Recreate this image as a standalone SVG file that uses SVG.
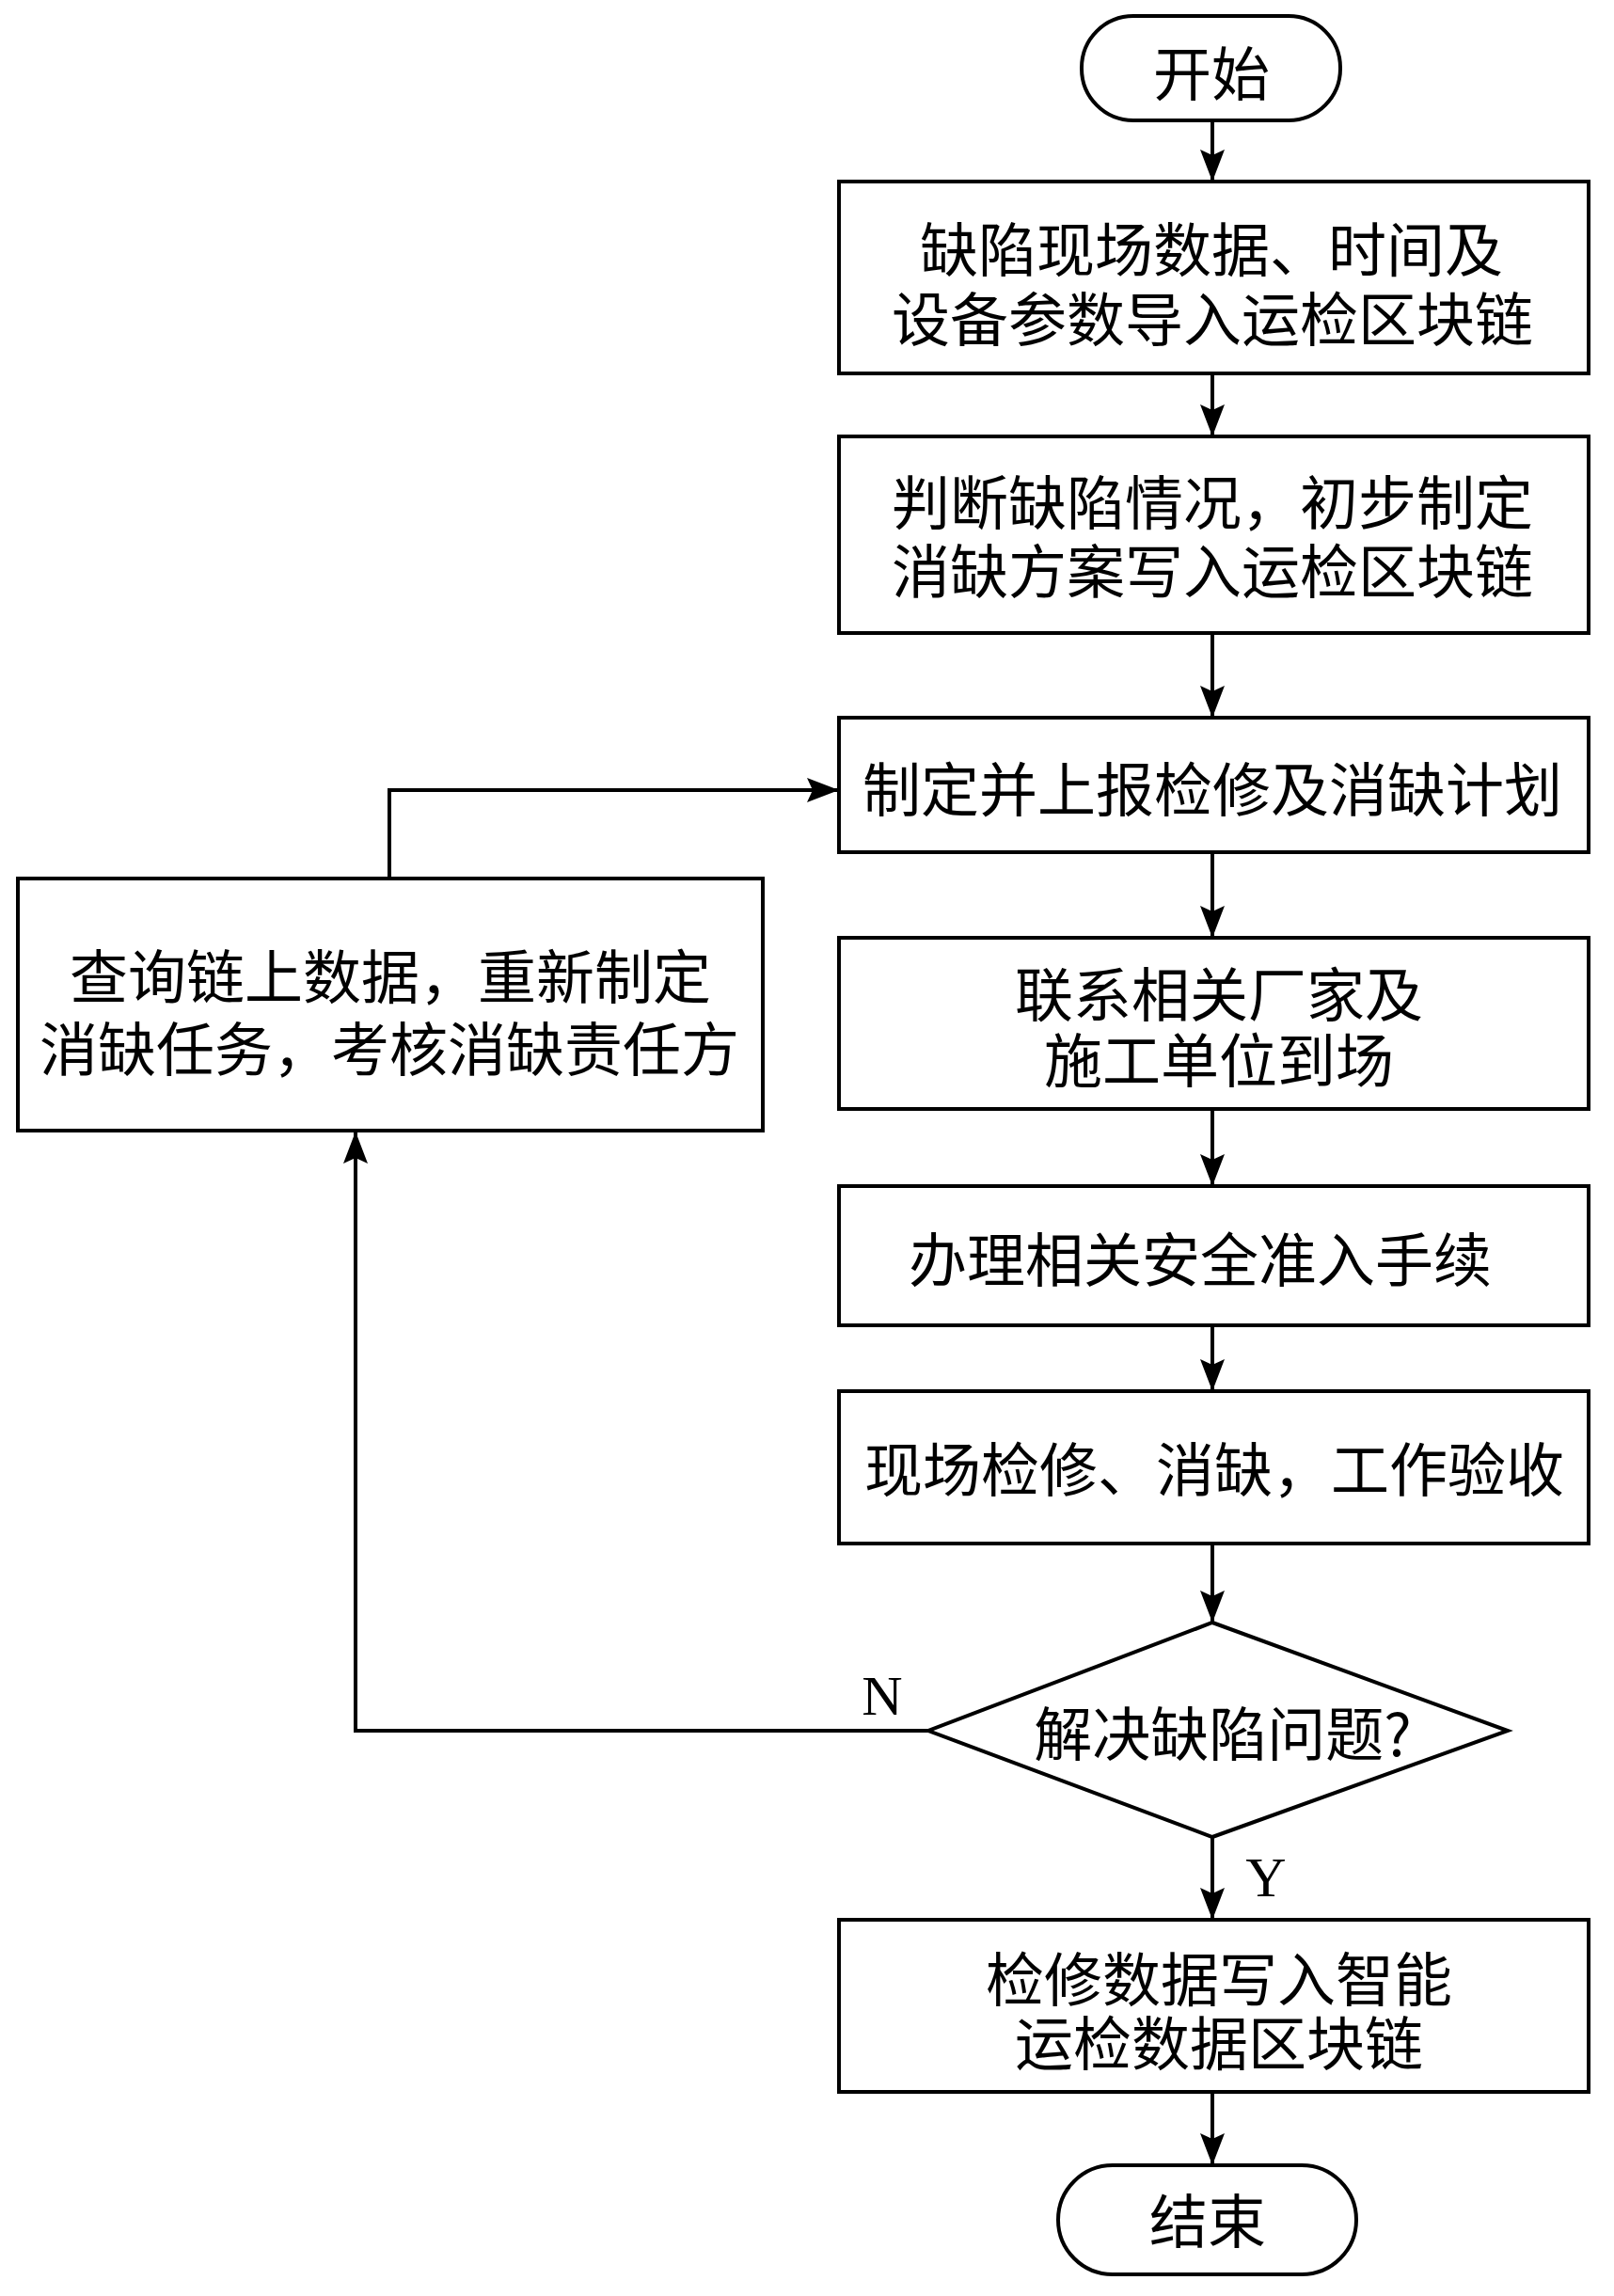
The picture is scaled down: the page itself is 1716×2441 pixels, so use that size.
<svg xmlns="http://www.w3.org/2000/svg" width="1716" height="2441" viewBox="0 0 1716 2441">
<style>
.shape{fill:#fff;stroke:#000;stroke-width:4}
.t{font-family:"Noto Sans CJK SC","Liberation Serif",serif;font-size:62px;fill:#000;text-anchor:middle;dominant-baseline:central}
.lbl{font-family:"Liberation Serif",serif;font-size:60px;fill:#000;text-anchor:middle;dominant-baseline:central}
.c{fill:none;stroke:#000;stroke-width:4}
</style>
<defs>
<marker id="ah" markerUnits="userSpaceOnUse" markerWidth="36" markerHeight="28" refX="34" refY="14" orient="auto">
<path d="M0,1 L34,14 L0,27 L6,14 Z" fill="#000"/>
</marker>
</defs>
<rect width="1716" height="2441" fill="#fff"/>
<g id="connectors">
<line class="c" x1="1289" y1="128" x2="1289" y2="193" marker-end="url(#ah)"/>
<line class="c" x1="1289" y1="397" x2="1289" y2="464" marker-end="url(#ah)"/>
<line class="c" x1="1289" y1="673" x2="1289" y2="763" marker-end="url(#ah)"/>
<line class="c" x1="1289" y1="906" x2="1289" y2="997" marker-end="url(#ah)"/>
<line class="c" x1="1289" y1="1179" x2="1289" y2="1261" marker-end="url(#ah)"/>
<line class="c" x1="1289" y1="1409" x2="1289" y2="1479" marker-end="url(#ah)"/>
<line class="c" x1="1289" y1="1641" x2="1289" y2="1725" marker-end="url(#ah)"/>
<line class="c" x1="1289" y1="1953" x2="1289" y2="2041" marker-end="url(#ah)"/>
<line class="c" x1="1289" y1="2224" x2="1289" y2="2302" marker-end="url(#ah)"/>
<polyline class="c" points="987,1840 378,1840 378,1203" marker-end="url(#ah)"/>
<polyline class="c" points="414,934 414,840 892,840" marker-end="url(#ah)"/>
<text class="lbl" x="938" y="1803">N</text>
<text class="lbl" x="1346" y="1996">Y</text>
</g>
<g id="start">
<rect class="shape" x="1150" y="17" width="275" height="111" rx="55" ry="55"/>
<text class="t" x="1288" y="75">开始</text>
</g>
<g id="box1">
<rect class="shape" x="892" y="193" width="797" height="204"/>
<text class="t" y="262"><tspan x="1288">缺陷现场数据、时间及</tspan><tspan x="1289" dy="74">设备参数导入运检区块链</tspan></text>
</g>
<g id="box2">
<rect class="shape" x="892" y="464" width="797" height="209"/>
<text class="t" y="531"><tspan x="1289">判断缺陷情况，初步制定</tspan><tspan x="1289" dy="73">消缺方案写入运检区块链</tspan></text>
</g>
<g id="box3">
<rect class="shape" x="892" y="763" width="797" height="143"/>
<text class="t" x="1289" y="836">制定并上报检修及消缺计划</text>
</g>
<g id="box4">
<rect class="shape" x="892" y="997" width="797" height="182"/>
<text class="t" y="1054"><tspan x="1296">联系相关厂家及</tspan><tspan x="1296" dy="70">施工单位到场</tspan></text>
</g>
<g id="box5">
<rect class="shape" x="892" y="1261" width="797" height="148"/>
<text class="t" x="1276" y="1336">办理相关安全准入手续</text>
</g>
<g id="box6">
<rect class="shape" x="892" y="1479" width="797" height="162"/>
<text class="t" x="1291" y="1559">现场检修、消缺，工作验收</text>
</g>
<g id="decision">
<polygon class="shape" points="1289,1725 1603,1840 1289,1953 987,1840"/>
<text class="t" x="1300" y="1840">解决缺陷问题?</text>
</g>
<g id="box7">
<rect class="shape" x="892" y="2041" width="797" height="183"/>
<text class="t" y="2101"><tspan x="1296">检修数据写入智能</tspan><tspan x="1296" dy="68">运检数据区块链</tspan></text>
</g>
<g id="end">
<rect class="shape" x="1125" y="2302" width="317" height="116" rx="58" ry="58"/>
<text class="t" x="1284" y="2358">结束</text>
</g>
<g id="review">
<rect class="shape" x="19" y="934" width="792" height="268"/>
<text class="t" y="1035"><tspan x="415">查询链上数据，重新制定</tspan><tspan x="414" dy="77">消缺任务，考核消缺责任方</tspan></text>
</g>
</svg>
